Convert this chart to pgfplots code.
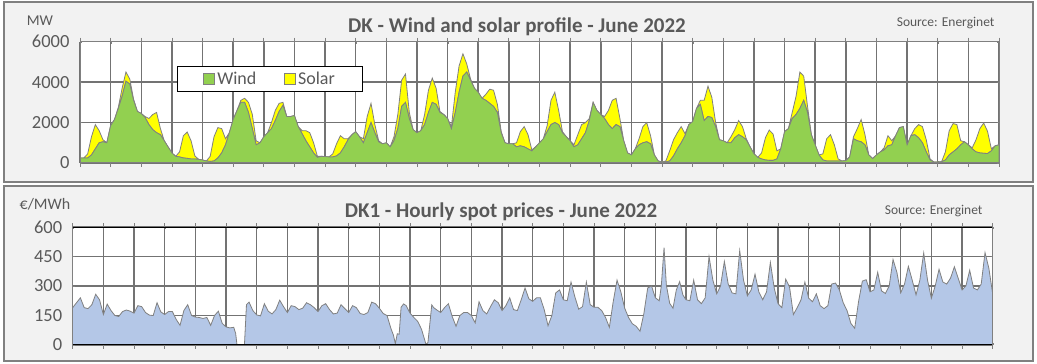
\documentclass[border=0pt]{standalone}
\usepackage{pgfplots}
\usepackage{pgfplotstable}
\pgfplotsset{compat=1.18}
\usepackage{fontspec}
\setmainfont{Carlito}
\definecolor{txt}{HTML}{595959}
\definecolor{gridc}{HTML}{808080}
\definecolor{wind}{HTML}{92D050}
\definecolor{solar}{HTML}{FFFF00}
\definecolor{price}{HTML}{B4C7E7}
\definecolor{panel}{HTML}{F2F2F2}

\pgfplotstableread{
h w s
0 250 0
3 250 0
6 250 200
9 400 900
12 700 1200
15 1000 600
18 1050 100
21 1000 0
24 1850 0
27 2150 0
30 2700 50
33 3300 400
36 4050 450
39 3900 250
42 3100 50
45 2550 0
48 2450 0
51 2250 50
54 1900 300
57 1650 750
60 1500 1000
63 1400 300
66 1100 0
69 800 0
72 500 0
75 330 0
78 300 250
81 250 1100
84 230 1300
87 200 900
90 200 150
93 180 0
96 150 0
99 100 0
102 80 250
105 100 1200
108 250 1500
111 500 1200
114 900 300
117 1500 0
120 2150 0
123 2600 0
126 3000 100
129 3000 200
132 2500 500
135 1700 700
138 900 200
141 1000 0
144 1300 0
147 1500 0
150 1700 300
153 2100 500
156 2550 400
159 2850 150
162 2300 0
165 2300 0
168 2350 0
171 1800 0
174 1450 150
177 1100 500
180 800 700
183 500 500
186 280 50
189 330 0
192 320 0
195 300 0
198 300 150
201 350 600
204 500 850
207 800 400
210 1150 50
213 1400 0
216 1550 0
219 1300 0
222 1000 200
225 1500 800
228 2000 950
231 1500 400
234 1050 50
237 950 0
240 1000 0
243 800 0
246 1100 200
249 1700 700
252 2800 1300
255 3000 1400
258 2200 300
261 1650 0
264 1500 0
267 1600 0
270 1900 500
273 2500 1100
276 3000 1200
279 2900 800
282 2500 50
285 2400 0
288 2200 0
291 1700 100
294 2500 1000
297 3500 1300
300 4300 1100
303 4500 400
306 4100 50
309 3700 0
312 3500 0
315 3200 0
318 3100 300
321 2950 700
324 2800 800
327 2500 400
330 1500 50
333 1000 0
336 950 0
339 950 0
342 800 200
345 850 700
348 800 1000
351 700 700
354 600 50
357 800 0
360 1000 0
363 1200 0
366 1550 300
369 1900 1200
372 2000 1500
375 1900 700
378 1500 50
381 1300 0
384 1100 0
387 800 100
390 900 500
393 1200 700
396 1500 500
399 2100 100
402 3000 0
405 2600 0
408 2400 0
411 2200 100
414 1900 700
417 1700 1400
420 1900 1300
423 1800 400
426 1100 0
429 500 0
432 400 0
435 700 0
438 900 300
441 1000 800
444 1050 950
447 950 400
450 400 0
453 100 0
456 50 0
459 50 50
462 100 500
465 350 800
468 700 800
471 1000 800
474 1350 100
477 1900 0
480 2050 0
483 2700 0
486 2900 200
489 2100 1000
492 2300 1500
495 2250 1000
498 1800 200
501 1150 0
504 1100 0
507 1000 0
510 1000 300
513 1250 400
516 1400 700
519 1300 500
522 1150 50
525 800 0
528 460 0
531 280 0
534 200 300
537 150 1100
540 130 1500
543 130 1300
546 200 400
549 700 0
552 1550 0
555 1700 0
558 2200 300
561 2400 900
564 2700 1800
567 3100 1200
570 2500 300
573 1400 0
576 900 0
579 400 0
582 150 300
585 100 1100
588 100 1300
591 100 800
594 100 100
597 100 0
600 120 0
603 300 0
606 1200 100
609 1100 600
612 1050 1100
615 900 500
618 400 0
621 220 0
624 400 0
627 550 0
630 650 100
633 850 500
636 900 200
639 1350 0
642 1750 0
645 1800 0
648 900 0
651 1350 0
654 1400 300
657 1250 650
660 1000 800
663 550 600
666 150 50
669 50 0
672 50 0
675 60 0
678 150 400
681 400 1200
684 550 1400
687 700 1200
690 900 200
693 1050 0
696 900 0
699 700 50
702 550 600
705 500 1200
708 480 1500
711 470 1100
714 600 100
717 850 0
720 900 0
}\wsdata

\pgfplotstableread{
h p
0 190
3 215
6 240
9 190
12 185
15 205
18 258
21 230
24 155
27 208
30 175
33 150
36 145
39 170
42 178
45 172
48 162
51 200
54 195
57 165
60 152
63 150
66 215
69 168
72 155
75 170
78 170
81 130
84 100
87 175
90 205
93 150
96 142
99 140
102 135
105 140
108 100
111 150
114 172
117 110
120 92
123 87
126 90
127.5 60
128.6 0
134.4 0
136 205
138 218
141 175
144 153
147 148
150 210
153 172
156 158
159 180
162 228
165 195
168 165
171 200
174 195
177 180
180 187
183 215
186 205
189 190
192 170
195 200
198 210
201 180
204 158
207 162
210 205
213 185
216 165
219 200
222 190
225 160
228 155
231 165
234 218
237 210
240 187
243 160
246 150
249 85
251 50
252.5 7
254 57
255.5 55
257 192
259 209
261 200
264 162
267 140
270 120
273 80
276.5 3
278 12
281 204
282.5 190
285 178
288 165
291 190
294 210
297 145
300 95
303 150
306 165
309 165
312 150
315 112
318 220
321 175
324 158
327 195
330 230
333 215
336 175
339 200
342 240
345 180
348 175
351 230
354 290
357 235
360 222
363 240
366 240
369 180
372 98
375 150
378 265
381 280
384 230
387 225
390 320
393 245
396 182
399 195
402 320
405 205
408 192
411 192
414 175
417 140
420 90
423 220
426 330
429 270
432 187
435 140
438 108
441 95
444 70
447 160
450 290
453 300
456 240
459 225
460.6 297
462.8 495
464.6 305
467.2 212
469.8 187
472.4 280
475 322
477.6 254
480 230
483 225
486 330
489 230
492 210
495 240
498 450
501 330
504 260
507 300
510 425
513 310
516 265
519 260
522 480
525 330
528 250
531 280
534 360
537 270
540 230
543 270
546 420
549 290
552 210
555 190
558 335
561 295
564 155
567 190
570 230
573 320
576 238
579 220
582 260
585 200
588 185
591 200
594 310
597 315
600 280
603 215
606 175
609 110
612 85
615 220
618 325
621 332
624 270
627 280
630 370
633 275
636 262
639 300
642 435
645 370
648 265
651 310
654 400
657 330
660 255
663 330
666 468
669 330
672 238
675 300
678 385
681 320
684 310
687 340
690 398
693 340
696 280
699 300
702 380
705 290
708 280
711 310
714 470
717 390
720 260
}\pricedata

\pgfplotsset{
  gridaxis/.style={
    scale only axis,
    axis background/.style={fill=white},
    xmin=0, xmax=720,
    xtick={0,24,...,720},
    xticklabels={},
    xmajorgrids=true, ymajorgrids=true,
    major grid style={draw=black!55, line width=1.5pt},
    tick align=inside,
    major tick length=2pt,
    axis line style={gridc, line width=1pt},
    yticklabel style={font=\fontsize{18.5}{19}\selectfont, text=txt, xshift=-7pt},
    /pgf/number format/assume math mode=true,
    /pgf/number format/set thousands separator={},
  },
  plotaxis/.style={
    scale only axis,
    xmin=0, xmax=720,
    xtick={0,24,...,720},
    xticklabels={},
    ytick=\empty,
    tick align=outside,
    major tick length=4pt,
    x tick style={gridc, line width=0.8pt},
    axis on top,
    separate axis lines,
  }
}

\begin{document}
\begin{tikzpicture}[x=1pt,y=1pt]
\fill[white] (0,0) rectangle (1037,364);
\filldraw[fill=panel, draw=gridc, line width=2pt] (3.5,182) rectangle (1033,361.5);
\filldraw[fill=panel, draw=gridc, line width=2pt] (3.5,3) rectangle (1033,177.5);

% ---------- top chart ----------
\begin{axis}[gridaxis,
  at={(80pt,201pt)}, anchor=south west,
  width=919pt, height=121.3pt,
  ymin=0, ymax=6000, ytick={0,2000,4000,6000},
]
\end{axis}
\begin{axis}[plotaxis,
  at={(80pt,201pt)}, anchor=south west,
  width=919pt, height=121.3pt,
  ymin=0, ymax=6000,
  x axis line style={gridc, line width=1pt},
  y axis line style={gridc, line width=1pt},
  stack plots=y,
  legend columns=2,
  legend style={at={(0.1055,0.80)}, anchor=north west, draw=black, line width=1pt,
    fill=white, font=\fontsize{18}{19}\selectfont, text=txt,
    inner xsep=26pt, inner ysep=3.5pt},
  /tikz/every even column/.append style={column sep=26pt},
  legend image code/.code={\draw[#1, line width=0.8pt] (0pt,-5.5pt) rectangle (11pt,5.5pt);},
]
\addplot[fill=wind, draw=gridc, line width=0.8pt] table[x=h, y=w] {\wsdata} \closedcycle;
\addplot[fill=solar, draw=gridc, line width=0.8pt] table[x=h, y=s] {\wsdata} \closedcycle;
\legend{Wind, Solar}
\end{axis}

% ---------- bottom chart ----------
\begin{axis}[gridaxis,
  at={(72.7pt,19pt)}, anchor=south west,
  width=920pt, height=118pt,
  ymin=0, ymax=600, ytick={0,150,300,450,600},
]
\end{axis}
\begin{axis}[plotaxis,
  at={(72.7pt,19pt)}, anchor=south west,
  width=920pt, height=118pt,
  ymin=0, ymax=600,
  x axis line style={black, line width=1pt},
  y axis line style={gridc, line width=1pt},
]
\addplot[fill=price, draw=none] table[x=h, y=p] {\pricedata} \closedcycle;
\addplot[gridc, line width=0.8pt] table[x=h, y=p] {\pricedata};
\end{axis}

% ---------- texts ----------
\node[font=\fontsize{21}{24}\selectfont\bfseries, text=txt] at (517,337) {DK - Wind and solar profile - June 2022};
\node[font=\fontsize{13.5}{16}\selectfont, text=txt, anchor=east] at (998,341) {Source: Energinet};
\node[font=\fontsize{15}{16}\selectfont, text=txt] at (40,343) {MW};
\node[font=\fontsize{21}{24}\selectfont\bfseries, text=txt] at (501,152) {DK1 - Hourly spot prices - June 2022};
\node[font=\fontsize{13.5}{16}\selectfont, text=txt, anchor=east] at (986,153) {Source: Energinet};
\node[font=\fontsize{16}{17}\selectfont, text=txt] at (45,160) {€/MWh};

\pgfresetboundingbox
\useasboundingbox (0,0) rectangle (1037,364);
\end{tikzpicture}
\end{document}
